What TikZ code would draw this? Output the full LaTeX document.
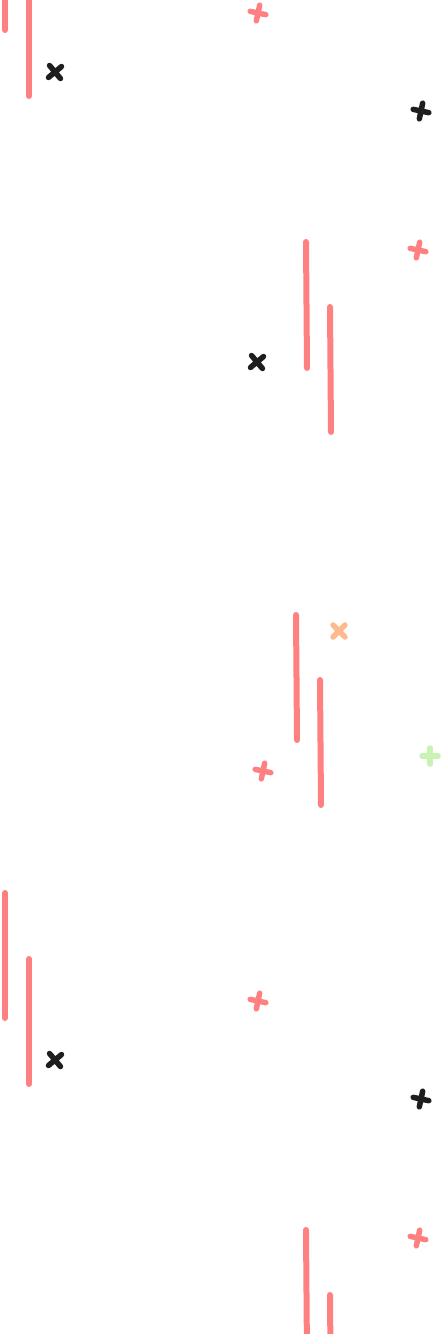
\documentclass[tikz,border=0pt]{standalone}
\usepackage{xcolor}
\usepackage{tikz}

\definecolor{salmon}{HTML}{FF8080}
\definecolor{ink}{HTML}{1E1E1E}
\definecolor{peach}{HTML}{FFB98F}
\definecolor{mint}{HTML}{C9F2B5}

\begin{document}
\begin{tikzpicture}[x=1pt, y=-1pt,
    bar/.style={salmon, line width=6pt, line cap=round},
    pics/plussign/.style={code={\draw[line width=5.5pt, line cap=round] (-8,0) -- (8,0) (0,-8) -- (0,8);}},
    pics/crosssign/.style={code={\draw[line width=5.5pt, line cap=round] (-6,-6) -- (6,6) (-6,6) -- (6,-6);}}]
    \useasboundingbox (0,0) rectangle (442,1334);
    \clip (0,0) rectangle (442,1334);
        % Repeating tile
        \foreach \o in {0,988} {
            \draw[bar] (5,\o-95) -- (5,\o+30);
            \draw[bar] (29,\o-29) -- (29,\o+96);
            \draw[bar] (306,\o+242) -- (307,\o+368);
            \draw[bar] (330,\o+307) -- (331,\o+432);
            \pic[ink, rotate=-5] at (55,\o+72) {crosssign};
            \pic[salmon, rotate=-12] at (258,\o+13) {plussign};
            \pic[ink, rotate=-12] at (421,\o+111) {plussign};
            \pic[salmon, rotate=-12] at (418,\o+250) {plussign};
            \pic[ink, rotate=-5] at (257,\o+362) {crosssign};
        }
        % Middle group
        \draw[bar] (296,615) -- (297,740);
        \draw[bar] (320,680) -- (321,805);
        \pic[peach] at (339,631) {crosssign};
        \pic[salmon, rotate=-12] at (263,771) {plussign};
        \pic[mint] at (430,756) {plussign};
    \end{tikzpicture}
\end{document}
